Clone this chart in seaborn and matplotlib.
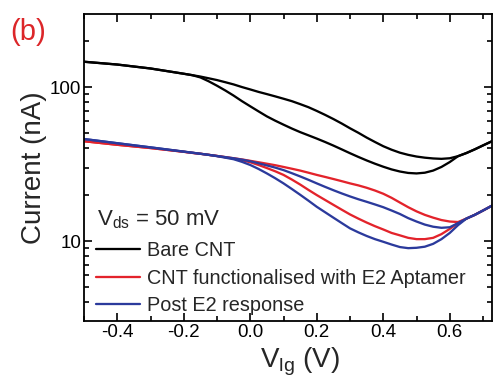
import numpy as np
import pandas as pd
import matplotlib
matplotlib.use("Agg")
import matplotlib.pyplot as plt
from matplotlib.ticker import MultipleLocator, FixedLocator, FuncFormatter, NullFormatter, LogLocator
import seaborn as sns

# gate voltage (V) and drain current (nA)
vlg = [-0.5, -0.4, -0.3,
       -0.2, -0.175, -0.15, -0.125, -0.1, -0.075, -0.05, -0.025,
       0.0, 0.025, 0.05, 0.075, 0.1, 0.125, 0.15, 0.175,
       0.2, 0.225, 0.25, 0.275, 0.3, 0.325, 0.35, 0.375,
       0.4, 0.425, 0.45, 0.475, 0.5, 0.525, 0.55, 0.575,
       0.6, 0.625, 0.65, 0.675, 0.7, 0.725, 0.75]

bare_up = [146, 140, 132,
           122, 119.5, 117, 114, 111, 107.5, 104, 100,
           96.5, 93, 90, 87, 84, 81, 77.5, 74,
           70, 66, 62, 58, 54, 50.5, 47, 44,
           41.3, 39.2, 37.5, 36.3, 35.4, 34.8, 34.4, 34.2,
           34.5, 35.6, 37.3, 39.4, 41.8, 44.3, 47]
bare_down = [146, 140, 132,
             122, 119.5, 115.5, 109, 102, 95, 88, 81,
             75, 69.5, 64.5, 60.5, 57, 53.8, 51, 48.6,
             46.3, 44, 41.7, 39.4, 37.2, 35.2, 33.4, 31.8,
             30.4, 29.2, 28.3, 27.7, 27.5, 27.8, 28.7, 30.3,
             32.6, 35.6, 37.3, 39.4, 41.8, 44.3, 47]

apt_up = [44.5, 42.2, 40.2,
          38.0, 37.4, 36.9, 36.3, 35.7, 35.1, 34.5, 33.9,
          33.2, 32.5, 31.8, 31.1, 30.3, 29.5, 28.7, 27.8,
          26.9, 26.1, 25.3, 24.5, 23.7, 23.0, 22.2, 21.3,
          20.3, 19.1, 17.8, 16.6, 15.6, 14.8, 14.2, 13.7,
          13.4, 13.3, 14.0, 14.8, 15.8, 16.9, 17.9]
apt_down = [44.5, 42.2, 40.2,
            38.0, 37.4, 36.9, 36.3, 35.7, 35.0, 34.3, 33.5,
            32.5, 31.2, 29.8, 28.4, 26.9, 25.1, 23.3, 21.5,
            19.9, 18.5, 17.2, 16.0, 14.9, 14.0, 13.2, 12.5,
            11.9, 11.3, 10.9, 10.5, 10.3, 10.3, 10.5, 11.1,
            12.0, 13.1, 14.0, 14.8, 15.8, 16.9, 17.9]

e2_up = [46.0, 43.2, 40.6,
         38.1, 37.5, 36.9, 36.3, 35.7, 35.1, 34.5, 33.8,
         33.0, 32.0, 31.0, 30.0, 28.9, 27.6, 26.3, 25.0,
         23.7, 22.5, 21.4, 20.4, 19.5, 18.7, 18.0, 17.3,
         16.6, 15.8, 15.0, 14.1, 13.4, 12.8, 12.4, 12.2,
         12.3, 13.1, 14.0, 14.8, 15.8, 16.9, 17.9]
e2_down = [46.0, 43.2, 40.6,
           38.1, 37.5, 36.9, 36.3, 35.6, 34.8, 34.0, 32.7,
           31.2, 29.4, 27.5, 25.6, 23.7, 21.8, 20.0, 18.3,
           16.7, 15.4, 14.2, 13.1, 12.1, 11.4, 10.8, 10.3,
           9.9, 9.5, 9.15, 9.0, 9.05, 9.2, 9.6, 10.3,
           11.3, 12.7, 14.0, 14.8, 15.8, 16.9, 17.9]

labels = ["Bare CNT", "CNT functionalised with E2 Aptamer", "Post E2 response"]
colors = {labels[0]: "black", labels[1]: "#e3232b", labels[2]: "#2b3a9c"}

curves = [(labels[0], "up", bare_up), (labels[0], "down", bare_down),
          (labels[1], "up", apt_up), (labels[1], "down", apt_down),
          (labels[2], "up", e2_up), (labels[2], "down", e2_down)]
df = pd.concat([pd.DataFrame({"Vlg": vlg, "I": c, "sample": s, "sweep": w})
                for s, w, c in curves], ignore_index=True)

sns.set_theme(style="ticks")
plt.rcParams["font.family"] = ["Liberation Sans", "DejaVu Sans"]
plt.rcParams["mathtext.fontset"] = "custom"
plt.rcParams["mathtext.rm"] = "Liberation Sans"
plt.rcParams["mathtext.it"] = "Liberation Sans:italic"
plt.rcParams["axes.unicode_minus"] = False

fig = plt.figure(figsize=(4.94, 3.83), dpi=100)
ax = fig.add_axes([84 / 494, 1 - 321 / 383, 408 / 494, 307 / 383])

sns.lineplot(data=df, x="Vlg", y="I", hue="sample", units="sweep", estimator=None,
             sort=False, palette=colors, hue_order=labels, linewidth=1.65, ax=ax)
for ln in ax.lines:
    ln.set_solid_joinstyle("round")

ax.set_yscale("log")
ax.set_xlim(-0.5, 0.727)
ax.set_ylim(3.03, 298)

ax.xaxis.set_major_locator(FixedLocator([-0.4, -0.2, 0.0, 0.2, 0.4, 0.6]))
ax.xaxis.set_major_formatter(FuncFormatter(lambda v, p: f"{v:.1f}"))
ax.xaxis.set_minor_locator(MultipleLocator(0.1))
ax.yaxis.set_major_locator(FixedLocator([10, 100]))
ax.yaxis.set_major_formatter(FuncFormatter(lambda v, p: f"{v:g}"))
ax.yaxis.set_minor_locator(LogLocator(base=10, subs=np.arange(2, 10)))
ax.yaxis.set_minor_formatter(NullFormatter())

ax.tick_params(which="both", direction="in", top=True, right=True, width=1.2,
               color="black", labelcolor="black")
ax.tick_params(which="major", length=6, labelsize=13.5, pad=2)
ax.tick_params(which="minor", length=3.5)
for sp in ax.spines.values():
    sp.set_linewidth(1.3)
    sp.set_color("black")

ax.set_xlabel("V$_{\\mathrm{lg}}$ (V)", fontsize=20, labelpad=2)
ax.xaxis.set_label_coords(0.53, -0.08)
ax.set_ylabel("Current (nA)", fontsize=20, labelpad=2)

ax.text(0.032, 0.31, "V$_{\\mathrm{ds}}$ = 50 mV", transform=ax.transAxes,
        fontsize=16, va="baseline", ha="left")

ax.legend(frameon=False, loc="lower left", bbox_to_anchor=(0.03, 0.02),
          fontsize=14.3, handlelength=2.2, handletextpad=0.35, labelspacing=0.42,
          borderpad=0, borderaxespad=0, title=None)

fig.text(10 / 494, 1 - 32 / 383, "(b)", color="#dc2629", fontsize=21,
         va="center", ha="left")

fig.savefig("out.png", dpi=100, facecolor="white")
